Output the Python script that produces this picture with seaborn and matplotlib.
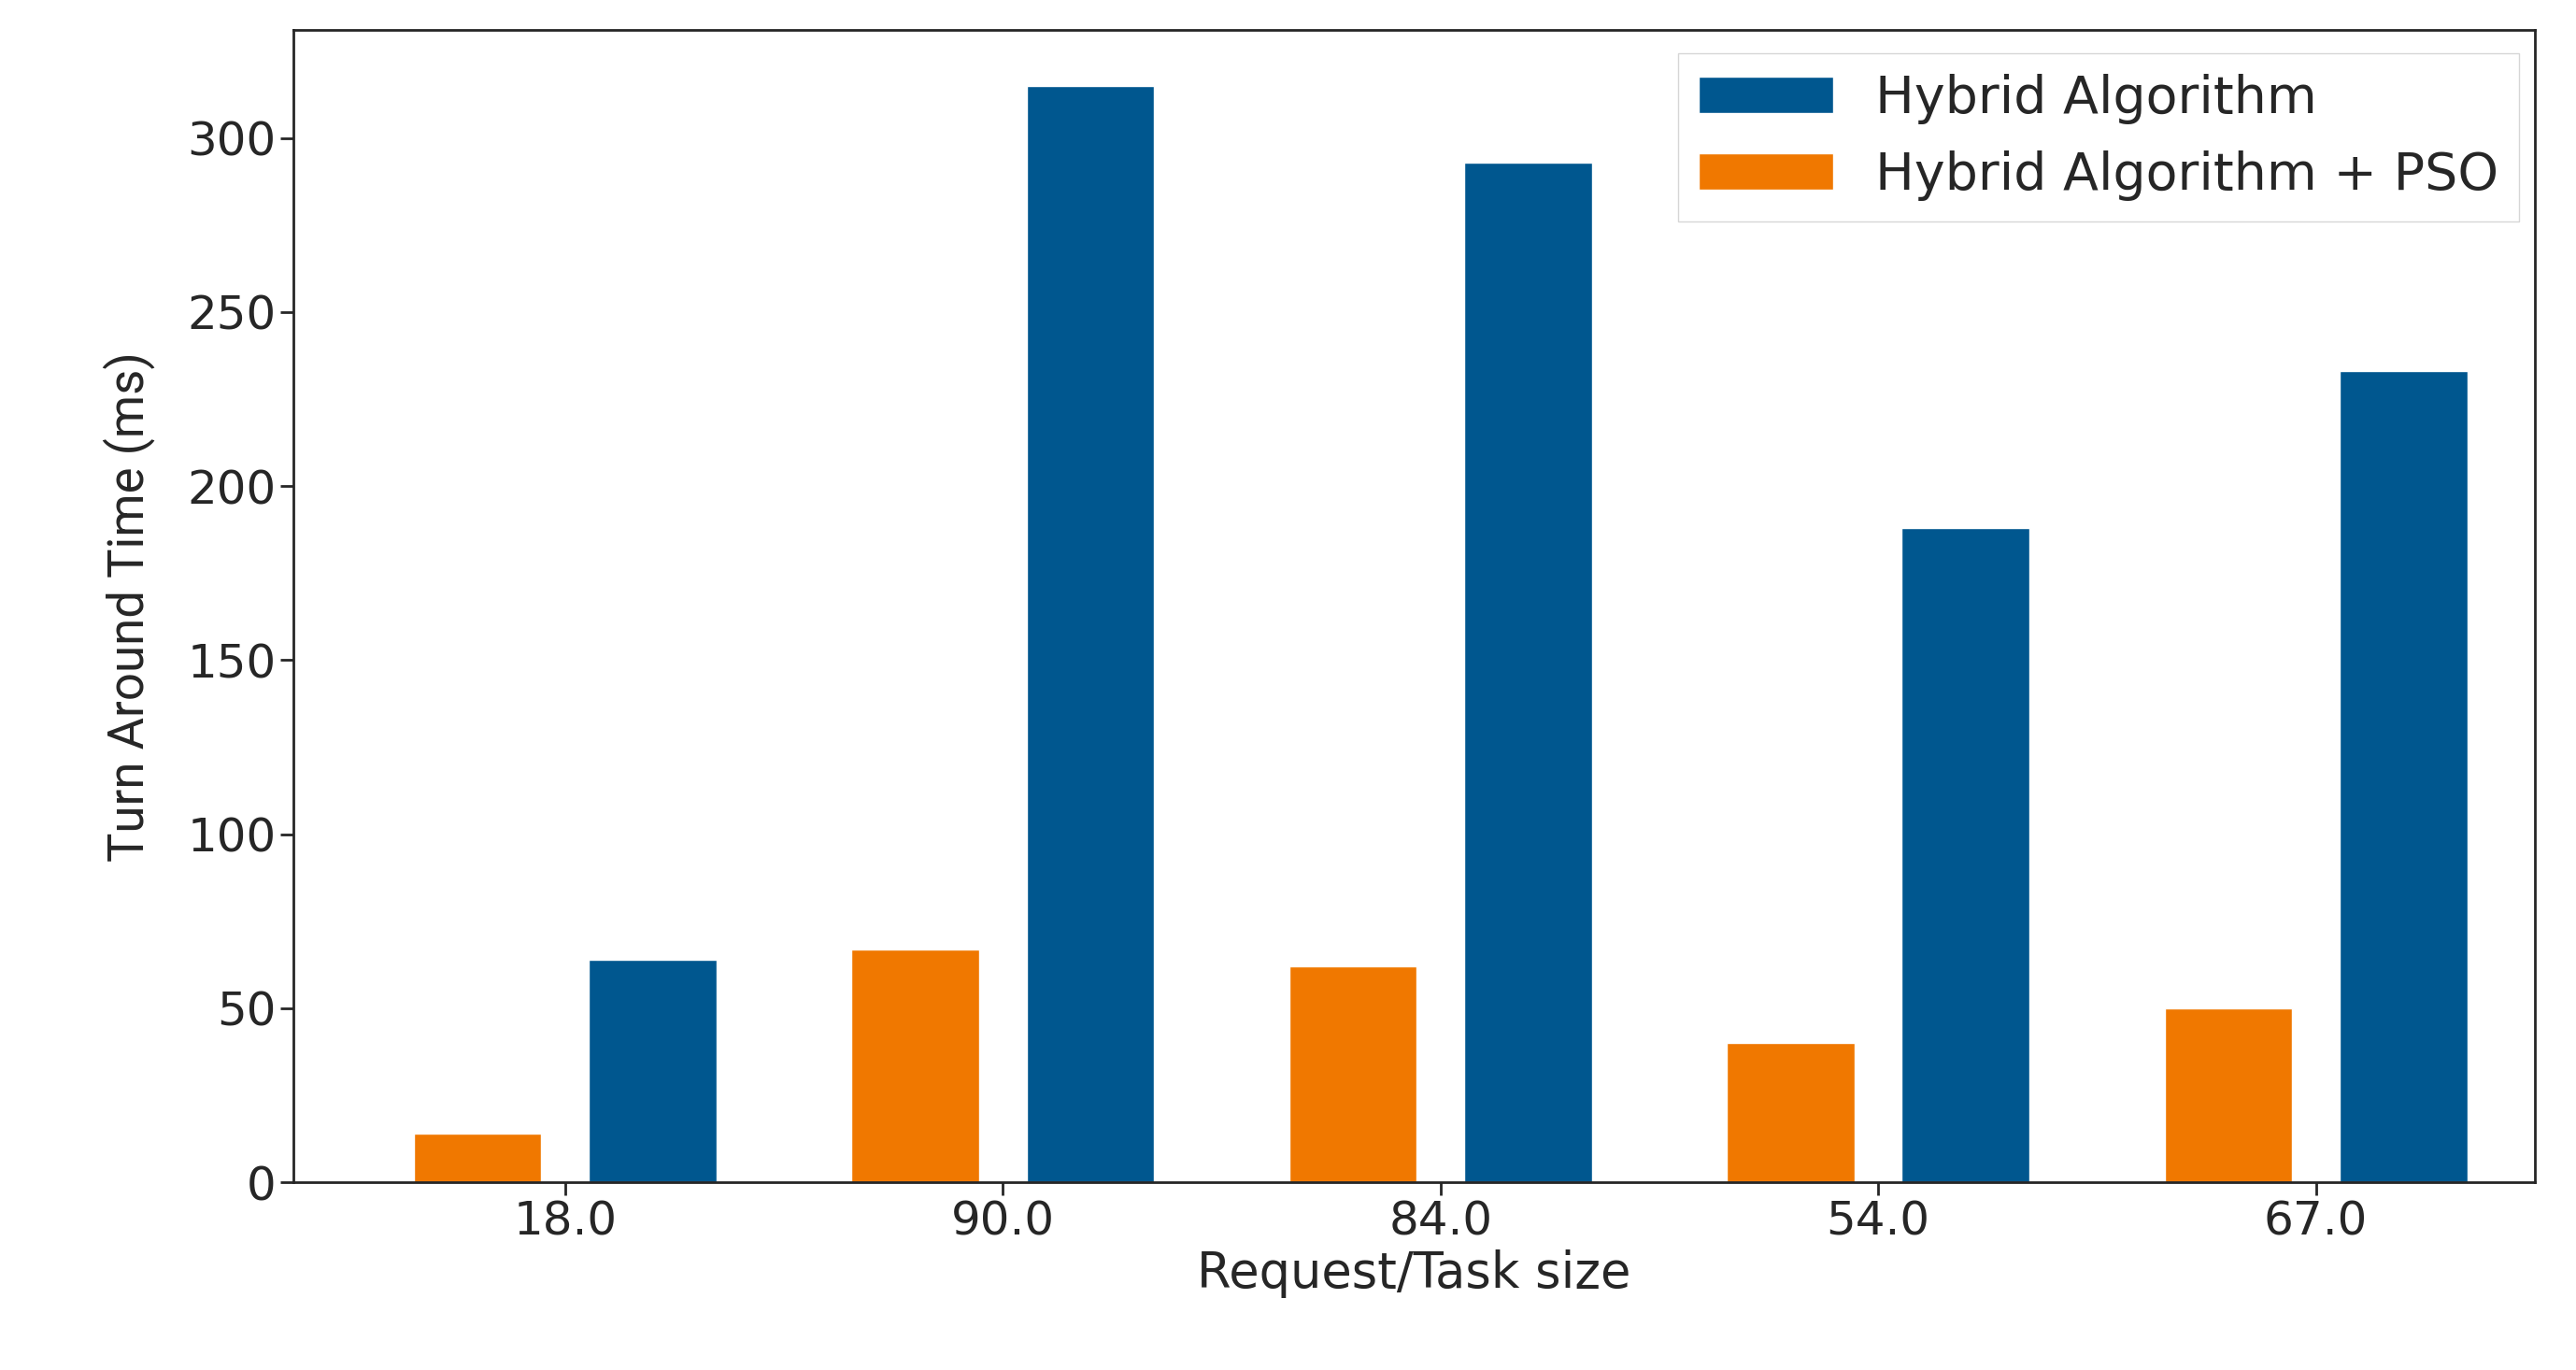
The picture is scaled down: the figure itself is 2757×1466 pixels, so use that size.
import pandas as pd
import matplotlib
matplotlib.use("Agg")
import matplotlib.pyplot as plt
import seaborn as sns

sizes = ["18.0", "90.0", "84.0", "54.0", "67.0"]
hybrid = [64, 315, 293, 188, 233]
hybrid_pso = [14, 67, 62, 40, 50]

df = pd.DataFrame({
    "size": sizes * 2,
    "time": hybrid_pso + hybrid,
    "algo": ["Hybrid Algorithm + PSO"] * 5 + ["Hybrid Algorithm"] * 5,
})

sns.set_style("ticks")
plt.rcParams["font.family"] = ["DejaVu Sans"]

fig = plt.figure(figsize=(27.57, 14.66), dpi=100)
ax = fig.add_axes([0.114, 0.137, 0.870, 0.841])
palette = {"Hybrid Algorithm": "#00578f", "Hybrid Algorithm + PSO": "#f07800"}
sns.barplot(data=df, x="size", y="time", hue="algo",
            hue_order=["Hybrid Algorithm + PSO", "Hybrid Algorithm"],
            palette=palette, width=0.8, gap=0.27, saturation=1, ax=ax)

ax.set_xlim(-0.62, 4.5)
ax.set_ylim(0, 331)
ax.tick_params(labelsize=36, length=10, width=2)
for s in ax.spines.values():
    s.set_linewidth(2)
ax.set_xlabel("Request/Task size", fontsize=38)
ax.set_ylabel("Turn Around Time (ms)", fontsize=38, family="Roboto",
              fontstretch="condensed", labelpad=25)

h, l = ax.get_legend_handles_labels()
leg = ax.legend(h[::-1], l[::-1], loc="upper right", bbox_to_anchor=(0.993, 0.98),
                fontsize=40, frameon=True, fancybox=False,
                handlelength=2.6, borderpad=0.4, borderaxespad=0)
leg.get_frame().set_edgecolor("#cccccc")

fig.savefig("out.png", dpi=100)
